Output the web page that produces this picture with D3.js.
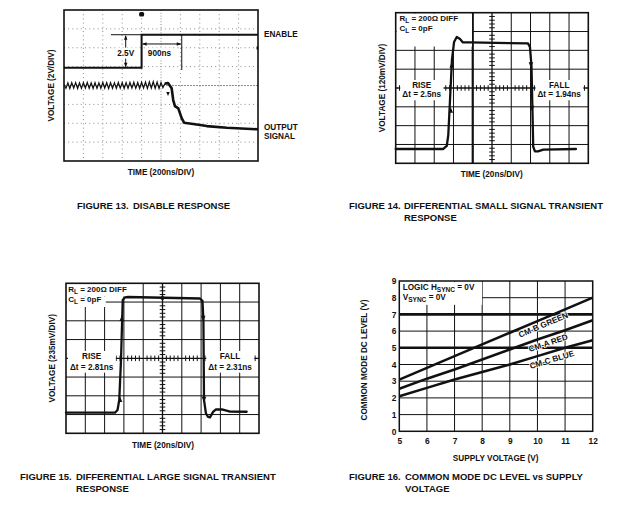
<!DOCTYPE html>
<html><head><meta charset="utf-8">
<script src="https://cdn.jsdelivr.net/npm/d3@7/dist/d3.min.js"></script>
<style>
html,body{margin:0;padding:0;background:#fff}
svg{display:block}
text{font-family:"Liberation Sans",Arial,Helvetica,sans-serif;font-weight:bold;fill:#111}
</style></head><body>
<svg id="chart" width="620" height="511"></svg>
<script>
// ================= DATA =================
// Figure 13 – disable response (scope divisions: x 0..10, y -4..4)
const fig13Enable = [[0,0.94],[4.0,0.94],[4.0,2.69],[10,2.69]];
const fig13Ripple = [[0,0.05],[0.1,-0.15],[0.2,0.14],[0.3,-0.16],[0.4,0.15],[0.5,-0.14],[0.6,0.15],[0.7,-0.16],[0.8,0.14],[0.9,-0.15],[1.0,0.15],[1.1,-0.14],[1.2,0.16],[1.3,-0.15],[1.4,0.14],[1.5,-0.16],[1.6,0.15],[1.7,-0.15],[1.8,0.14],[1.9,-0.15],[2.0,0.16],[2.1,-0.14],[2.2,0.15],[2.3,-0.16],[2.4,0.15],[2.5,-0.15],[2.6,0.14],[2.7,-0.15],[2.8,0.16],[2.9,-0.14],[3.0,0.15],[3.1,-0.16],[3.2,0.15],[3.3,-0.15],[3.4,0.16],[3.5,-0.14],[3.6,0.17],[3.7,-0.15],[3.8,0.16],[3.9,-0.16],[4.0,0.17],[4.1,-0.14],[4.2,0.18],[4.3,-0.15],[4.4,0.19],[4.5,-0.14],[4.6,0.2],[4.7,-0.15],[4.8,0.18],[4.9,-0.16],[5.0,0.16],[5.1,-0.12],[5.2,0.1]];
const fig13Decay = [[5.2,0.1],[5.36,0.13],[5.55,-0.15],[5.63,-0.77],[5.72,-1.09],[5.89,-1.21],[6.07,-1.74],[6.19,-1.97],[6.66,-2.04],[7.36,-2.15],[8.39,-2.24],[10,-2.32]];
const fig13Step = {x0:2.42, xEdge:4.0, xDelay:6.07, yLow:0.94, yHigh:2.69, yArrow:2.2, yBottom:0.82, xVolt:3.18, yText:1.74, xDelayText:4.92};

// Figure 14 – small signal transient (divisions, centre = 0,0)
const fig14Trace = [[-5,-3.24],[-2.53,-3.24],[-2.35,-3.08],[-2.27,-2.5],[-2.18,-0.64],[-2.08,1.49],[-1.97,2.44],[-1.83,2.71],[-1.66,2.6],[-1.51,2.42],[-1.14,2.42],[1.87,2.37],[1.97,2.18],[2.05,1.17],[2.1,-1.17],[2.14,-3.12],[2.23,-3.37],[2.39,-3.37],[2.66,-3.27],[4.36,-3.24]];
const fig14RiseArrows = [[-2.09,1.22],[-2.14,-1.17]];
const fig14FallArrows = [[2.02,1.22],[2.08,-1.08]];
const fig14Notes = [["RISE","Δt = 2.5ns",-3.65],["FALL","Δt = 1.94ns",3.49]];

// Figure 15 – large signal transient
const fig15Trace = [[-5,-2.9],[-2.46,-2.9],[-2.33,-2.76],[-2.24,-2.22],[-2.15,-0.09],[-2.06,3.11],[-1.94,3.25],[-1.79,3.27],[1.94,3.19],[2.07,3.06],[2.12,2.04],[2.15,-2.22],[2.25,-2.93],[2.36,-3.13],[2.46,-3.15],[2.62,-2.86],[2.77,-2.73],[3.08,-2.72],[3.5,-2.84],[4.36,-2.85]];
const fig15RiseArrows = [[-2.11,2.13],[-2.2,-2.19]];
const fig15FallArrows = [[2.11,2.13],[2.15,-2.19]];
const fig15Notes = [["RISE","Δt = 2.81ns",-3.67],["FALL","Δt = 2.31ns",3.5]];

// Figure 16 – common mode DC level vs supply voltage
const supplyVoltage = [5,6,7,8,9,10,11,12];
const cmBGreen = [3.1,3.8,4.5,5.2,5.9,6.6,7.3,8.0];
const cmARed   = [2.55,3.15,3.7,4.3,4.9,5.5,6.05,6.65];
const cmCBlue  = [2.1,2.6,3.1,3.55,4.0,4.5,5.0,5.45];
const fig16Series = [["CM-B GREEN",cmBGreen,10.21,6.38],["CM-A RED",cmARed,10.39,5.3],["CM-C BLUE",cmCBlue,10.52,4.3]];
const fig16XTicks = [5,6,7,8,9,10,11,12];
const fig16YTicks = [0,1,2,3,4,5,6,7,8,9];
const fig16ThickLevels = [5,7];

// Captions
const captions = [
  ["FIGURE 13.", ["DISABLE RESPONSE"], 77, 133, 209],
  ["FIGURE 14.", ["DIFFERENTIAL SMALL SIGNAL TRANSIENT","RESPONSE"], 349, 404, 209],
  ["FIGURE 15.", ["DIFFERENTIAL LARGE SIGNAL TRANSIENT","RESPONSE"], 20, 76, 480],
  ["FIGURE 16.", ["COMMON MODE DC LEVEL vs SUPPLY","VOLTAGE"], 349, 405, 480]
];

// ================= DRAWING =================
const svg = d3.select("#chart");
svg.append("rect").attr("width",620).attr("height",511).attr("fill","#fff");
const INK = "#111";

function label(g, x, y, s, o = {}) {
  const t = g.append("text").attr("x", x).attr("y", y).attr("dy", o.dy || "0.36em")
    .attr("font-size", o.size || 8.2).attr("text-anchor", o.anchor || "start");
  if (o.rotate) t.attr("transform", `rotate(${o.rotate},${x},${y})`);
  t.text(s);
  return t;
}
function subLabel(g, x, y, parts, size) {
  const t = g.append("text").attr("x", x).attr("y", y).attr("dy", "0.36em").attr("font-size", size);
  let sub = false;
  parts.forEach(([s, isSub]) => {
    const dy = isSub && !sub ? 2.6 : (!isSub && sub ? -2.6 : 0);
    t.append("tspan").attr("dy", dy).attr("font-size", isSub ? size * 0.8 : size).text(s);
    sub = isSub;
  });
  return t;
}
function tri(g, cx, cy, dir, w = 4.5, h = 5.5) {
  let p;
  if (dir === "up") p = [[cx,cy],[cx-w/2,cy+h],[cx+w/2,cy+h]];
  else if (dir === "down") p = [[cx,cy],[cx-w/2,cy-h],[cx+w/2,cy-h]];
  else if (dir === "left") p = [[cx,cy],[cx+h,cy-w/2],[cx+h,cy+w/2]];
  else p = [[cx,cy],[cx-h,cy-w/2],[cx-h,cy+w/2]];
  g.append("polygon").attr("points", p.map(d => d.join(",")).join(" ")).attr("fill", INK);
}
function hline(g, x1, x2, y, w, c = INK, dash = null) {
  const l = g.append("line").attr("x1", x1).attr("x2", x2).attr("y1", y).attr("y2", y).attr("stroke", c).attr("stroke-width", w);
  if (dash) l.attr("stroke-dasharray", dash);
  return l;
}
function vline(g, x, y1, y2, w, c = INK, dash = null) {
  const l = g.append("line").attr("x1", x).attr("x2", x).attr("y1", y1).attr("y2", y2).attr("stroke", c).attr("stroke-width", w);
  if (dash) l.attr("stroke-dasharray", dash);
  return l;
}
function boxedLabel(g, fn) {
  const grp = g.append("g");
  const bg = grp.append("rect").attr("fill", "#fff");
  fn(grp);
  const bb = grp.node().getBBox();
  bg.attr("x", bb.x - 2).attr("y", bb.y - 1).attr("width", bb.width + 4).attr("height", bb.height + 2);
  return grp;
}
function traceLine(x, y) { return d3.line().x(d => x(d[0])).y(d => y(d[1])); }

// ---------- Figure 13 ----------
{
  const g = svg.append("g");
  const x = d3.scaleLinear([0, 10], [64, 258]);
  const y = d3.scaleLinear([-4, 4], [161, 10]);
  d3.range(1, 10).forEach(i => vline(g, x(i), y(4), y(-4), 1, "#8c8c8c", i === 5 ? "1,1.8" : "1,3.2"));
  d3.range(-3, 4).forEach(j => hline(g, x(0), x(10), y(j), 1, "#8c8c8c", j === 0 ? "2,1" : "1,3.2"));
  g.append("rect").attr("x", x(0)).attr("y", y(4)).attr("width", x(10) - x(0)).attr("height", y(-4) - y(4))
    .attr("fill", "none").attr("stroke", INK).attr("stroke-width", 1.6);

  const s = fig13Step;
  hline(g, x(s.x0), x(s.xEdge), y(s.yHigh), 1);
  vline(g, x(s.xVolt), y(s.yHigh) + 1, y(s.yLow) - 1, 1);
  tri(g, x(s.xVolt), y(s.yHigh) + 0.5, "up", 3.5, 4.5);
  tri(g, x(s.xVolt), y(s.yLow) - 0.5, "down", 3.5, 4.5);
  boxedLabel(g, gg => label(gg, x(s.xVolt), y(s.yText), "2.5V", {anchor: "middle"}));
  vline(g, x(s.xDelay), y(s.yHigh), y(s.yBottom), 1);
  hline(g, x(s.xEdge) + 1, x(s.xDelay) - 1, y(s.yArrow), 1);
  tri(g, x(s.xEdge) + 0.5, y(s.yArrow), "left", 3.5, 4.5);
  tri(g, x(s.xDelay) - 0.5, y(s.yArrow), "right", 3.5, 4.5);
  boxedLabel(g, gg => label(gg, x(s.xDelayText), y(s.yText), "900ns", {anchor: "middle"}));

  const ln = traceLine(x, y);
  g.append("path").attr("d", ln(fig13Enable)).attr("fill", "none").attr("stroke", INK).attr("stroke-width", 2);
  g.append("path").attr("d", ln(fig13Ripple)).attr("fill", "none").attr("stroke", INK).attr("stroke-width", 1.2).attr("stroke-linejoin", "miter");
  g.append("path").attr("d", ln(fig13Decay)).attr("fill", "none").attr("stroke", INK).attr("stroke-width", 2.6).attr("stroke-linejoin", "round");
  tri(g, x(5.36), y(-0.55), "down", 3.5, 4);
  g.append("rect").attr("x", x(4) - 2.5).attr("y", 12).attr("width", 5).attr("height", 4.5).attr("rx", 1.5).attr("fill", INK);
  g.append("rect").attr("x", x(10) - 1.5).attr("y", 46.5).attr("width", 1.8).attr("height", 3).attr("fill", INK);

  label(g, 264, 34, "ENABLE");
  label(g, 264, 127, "OUTPUT");
  label(g, 264, 136.5, "SIGNAL");
  label(g, 51, 85.5, "VOLTAGE (2V/DIV)", {anchor: "middle", rotate: -90});
  label(g, 161, 171.7, "TIME (200ns/DIV)", {anchor: "middle"});
}

// ---------- scope grid helper ----------
function scopeGrid(g, x, y, boldCol) {
  d3.range(-4, 5).forEach(i => vline(g, x(i), y(4), y(-4), i === boldCol ? 2.2 : (i === 0 ? 1.3 : 1)));
  d3.range(-3, 4).forEach(j => hline(g, x(-5), x(5), y(j), j === 0 ? 1.3 : 1));
  d3.range(-25, 26).forEach(k => { if (k % 5) vline(g, x(k / 5), y(0) - 2.8, y(0) + 2.8, 1); });
  d3.range(-20, 21).forEach(k => { if (k % 5) hline(g, x(0) - 2.8, x(0) + 2.8, y(k / 5), 1); });
}
function scopePanel(cfg) {
  const g = svg.append("g");
  const x = d3.scaleLinear([-5, 5], cfg.xr);
  const y = d3.scaleLinear([-4, 4], cfg.yr);
  scopeGrid(g, x, y, cfg.boldCol);
  cfg.boxes.forEach(b => g.append("rect").attr("x", b[0]).attr("y", b[1]).attr("width", b[2]).attr("height", b[3]).attr("fill", "#fff"));
  subLabel(g, cfg.note[0], cfg.note[1], [["R", 0], ["L", 1], [" = 200Ω DIFF", 0]], 8);
  subLabel(g, cfg.note[0], cfg.note[1] + 10, [["C", 0], ["L", 1], [" = 0pF", 0]], 8);
  cfg.notes.forEach(([a, b, px]) => boxedLabel(g, gg => {
    label(gg, x(px), y(0) + cfg.noteDy[0], a, {anchor: "middle"});
    label(gg, x(px), y(0) + cfg.noteDy[1], b, {anchor: "middle"});
  }));
  g.append("path").attr("d", traceLine(x, y)(cfg.trace)).attr("fill", "none").attr("stroke", INK)
    .attr("stroke-width", 2.3).attr("stroke-linejoin", "round").attr("stroke-linecap", "round");
  cfg.rise.forEach(([a, b]) => tri(g, x(a), y(b) - 2.8, "up", 4.5, 5.5));
  cfg.fall.forEach(([a, b]) => tri(g, x(a), y(b) + 2.8, "down", 4.5, 5.5));
  if (cfg.dot) g.append("circle").attr("cx", x(0)).attr("cy", y(cfg.dot)).attr("r", 2).attr("fill", INK);
  g.append("rect").attr("x", cfg.xr[0]).attr("y", cfg.yr[1]).attr("width", cfg.xr[1] - cfg.xr[0]).attr("height", cfg.yr[0] - cfg.yr[1])
    .attr("fill", "none").attr("stroke", INK).attr("stroke-width", 1.6);
  label(g, cfg.ylab[0], cfg.ylab[1], cfg.ylab[2], {anchor: "middle", rotate: -90});
  label(g, cfg.xlab[0], cfg.xlab[1], cfg.xlab[2], {anchor: "middle"});
}

scopePanel({
  xr: [395.7, 588.3], yr: [163.3, 12.7], boldCol: -1,
  boxes: [[396.5, 13.5, 75.5, 33]],
  note: [399.5, 20.8],
  notes: fig14Notes, noteDy: [-3, 6.3],
  trace: fig14Trace, rise: fig14RiseArrows, fall: fig14FallArrows,
  ylab: [381.7, 88, "VOLTAGE (120mV/DIV)"], xlab: [491.7, 174, "TIME (20ns/DIV)"]
});
scopePanel({
  xr: [66, 259], yr: [433.3, 283.3], boldCol: null,
  boxes: [[66.8, 284, 63, 12.5], [66.8, 296.5, 39, 10.5]],
  note: [68.3, 291.7],
  notes: fig15Notes, noteDy: [-2.3, 8.4],
  trace: fig15Trace, rise: fig15RiseArrows, fall: fig15FallArrows, dot: 3.22,
  ylab: [51.7, 358.3, "VOLTAGE (235mV/DIV)"], xlab: [163, 445, "TIME (20ns/DIV)"]
});

// ---------- Figure 16 ----------
{
  const g = svg.append("g");
  const x = d3.scaleLinear([5, 12], [399.3, 592.7]);
  const y = d3.scaleLinear([0, 9], [431.3, 281]);
  fig16XTicks.slice(1, -1).forEach(v => vline(g, x(v), y(9), y(0), 1));
  fig16YTicks.slice(1, -1).forEach(v => hline(g, x(5), x(12), y(v), fig16ThickLevels.includes(v) ? 2.6 : 1));
  g.append("rect").attr("x", x(5) + 0.8).attr("y", y(9) + 0.8).attr("width", 82).attr("height", 23).attr("fill", "#fff");
  subLabel(g, 402.7, 289.5, [["LOGIC H", 0], ["SYNC", 1], [" = 0V", 0]], 8.2);
  subLabel(g, 402.7, 299.5, [["V", 0], ["SYNC", 1], [" = 0V", 0]], 8.2);

  const ln = d3.line().x((d, i) => x(supplyVoltage[i])).y(d => y(d));
  fig16Series.forEach(([name, vals, lx, ly]) => {
    g.append("path").attr("d", ln(vals)).attr("fill", "none").attr("stroke", INK).attr("stroke-width", 2.5);
    const i = supplyVoltage.findIndex(v => v > lx);
    const ang = Math.atan2(y(vals[i]) - y(vals[i - 1]), x(supplyVoltage[i]) - x(supplyVoltage[i - 1])) * 180 / Math.PI;
    label(g, x(lx), y(ly), name, {anchor: "middle", rotate: ang, size: 8.2})
      .attr("stroke", "#fff").attr("stroke-width", 1.6).attr("paint-order", "stroke");
  });
  g.append("rect").attr("x", x(5)).attr("y", y(9)).attr("width", x(12) - x(5)).attr("height", y(0) - y(9))
    .attr("fill", "none").attr("stroke", INK).attr("stroke-width", 1.5);

  const ax = g.append("g").attr("transform", `translate(0,${y(0)})`)
    .call(d3.axisBottom(x).tickValues(fig16XTicks).tickSize(0).tickPadding(6.4).tickFormat(d3.format("d")));
  const ay = g.append("g").attr("transform", `translate(${x(5)},0)`)
    .call(d3.axisLeft(y).tickValues(fig16YTicks).tickSize(0).tickPadding(3).tickFormat(d3.format("d")));
  [ax, ay].forEach(a => { a.select(".domain").remove(); a.selectAll("text").attr("font-size", 8.4).attr("font-weight", "bold"); });

  label(g, 364.3, 360, "COMMON MODE DC LEVEL (V)", {anchor: "middle", rotate: -90});
  label(g, 495.7, 458.3, "SUPPLY VOLTAGE (V)", {anchor: "middle"});
}

// ---------- captions ----------
captions.forEach(([fig, lines, xf, xt, yb]) => {
  svg.append("text").attr("x", xf).attr("y", yb).attr("font-size", 9.5).text(fig);
  lines.forEach((l, i) => svg.append("text").attr("x", xt).attr("y", yb + i * 12.4).attr("font-size", 9.5).text(l));
});
</script>
</body></html>
